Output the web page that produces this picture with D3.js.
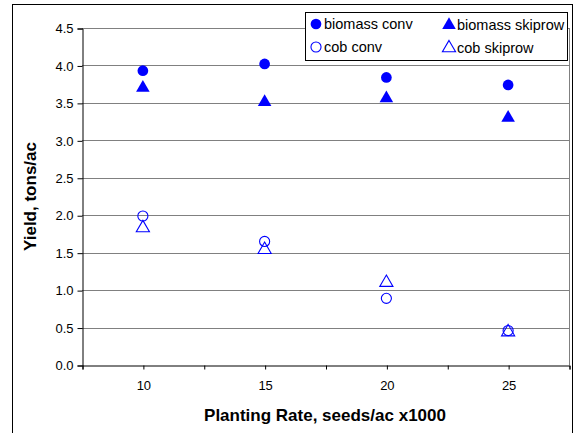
<!DOCTYPE html>
<html>
<head>
<script src="https://cdnjs.cloudflare.com/ajax/libs/d3/7.8.5/d3.min.js"></script>
<style>
  body { margin: 0; background: #fff; }
  text { font-family: Arial, "Liberation Sans", sans-serif; }
</style>
</head>
<body>
<div id="viz"></div>
<script>
// planting rate, seeds/ac x1000
var rates = [10, 15, 20, 25];
var biomassConv = [3.93, 4.02, 3.84, 3.74];
var biomassSkip = [3.70, 3.51, 3.56, 3.30];
var cobConv = [1.99, 1.65, 0.89, 0.46];
var cobSkip = [1.83, 1.54, 1.10, 0.44];
var yTicks = [0, 0.5, 1, 1.5, 2, 2.5, 3, 3.5, 4, 4.5];
var xTicks = [7.5, 10, 12.5, 15, 17.5, 20, 22.5, 25, 27.5];
var xLabels = [10, 15, 20, 25];

var W = 578, H = 433;
var plotL = 82, plotR = 569, plotT = 28, plotB = 365;
var blue = "#0000ff";
var font = "Arial, 'Liberation Sans', sans-serif";

var svg = d3.select("#viz").append("svg")
  .attr("width", W).attr("height", H);

// outer chart border
svg.append("rect")
  .attr("x", 12.5).attr("y", 4.5)
  .attr("width", 560).attr("height", 440)
  .attr("fill", "none").attr("stroke", "#000").attr("stroke-width", 1);

var x = d3.scaleLinear().domain([7.5, 27.5]).range([plotL, plotR]);
var y = d3.scaleLinear().domain([0, 4.5]).range([plotB, plotT]);

// gridlines
svg.append("g").selectAll("line").data(yTicks.filter(function(d){ return d > 0; }))
  .enter().append("line")
  .attr("x1", plotL).attr("x2", plotR)
  .attr("y1", function(d){ return Math.round(y(d)) + 0.5; })
  .attr("y2", function(d){ return Math.round(y(d)) + 0.5; })
  .attr("stroke", "#808080").attr("stroke-width", 1);

// plot right border
svg.append("line")
  .attr("x1", plotR + 0.5).attr("x2", plotR + 0.5)
  .attr("y1", plotT).attr("y2", plotB)
  .attr("stroke", "#808080");

// y axis
var yAxis = d3.axisLeft(y).tickValues(yTicks).tickSize(5).tickPadding(4)
  .tickFormat(d3.format(".1f"));
var gy = svg.append("g").attr("transform", "translate(" + (plotL + 0.5) + ",0.5)").call(yAxis);
gy.select(".domain").attr("stroke", "#000");
gy.selectAll(".tick line").attr("stroke", "#000");
gy.selectAll("text").attr("font-size", 13).attr("fill", "#000").attr("font-family", font);

// x axis
var xAxis = d3.axisBottom(x).tickValues(xTicks).tickSize(4).tickPadding(11)
  .tickFormat(function(d){ return xLabels.indexOf(d) >= 0 ? d : ""; });
var gx = svg.append("g").attr("transform", "translate(0.5," + (plotB + 0.5) + ")").call(xAxis);
gx.select(".domain").attr("stroke", "#000");
gx.selectAll(".tick line").attr("stroke", "#000");
gx.selectAll("text").attr("font-size", 13).attr("fill", "#000").attr("font-family", font);

// axis titles
svg.append("text")
  .attr("x", 325).attr("y", 421)
  .attr("text-anchor", "middle")
  .attr("font-size", 17).attr("font-weight", "bold")
  .text("Planting Rate, seeds/ac x1000");
svg.append("text")
  .attr("transform", "translate(36," + ((plotT + plotB) / 2) + ") rotate(-90)")
  .attr("text-anchor", "middle")
  .attr("font-size", 17).attr("font-weight", "bold")
  .text("Yield, tons/ac");

var circleSym = d3.symbol().type(d3.symbolCircle).size(90);
var triSym = d3.symbol().type(d3.symbolTriangle).size(80);
var openCircleSym = d3.symbol().type(d3.symbolCircle).size(80);
var openTriSym = d3.symbol().type(d3.symbolTriangle).size(75);

function drawSeries(vals, sym, filled) {
  svg.append("g").selectAll("path").data(vals).enter().append("path")
    .attr("d", sym)
    .attr("transform", function(d, i){ return "translate(" + x(rates[i]) + "," + y(d) + ")"; })
    .attr("fill", filled ? blue : "none")
    .attr("stroke", blue)
    .attr("stroke-width", filled ? 0 : 1.1);
}
drawSeries(biomassConv, circleSym, true);
drawSeries(biomassSkip, triSym, true);
drawSeries(cobConv, openCircleSym, false);
drawSeries(cobSkip, openTriSym, false);

// legend
var lg = svg.append("g");
lg.append("rect")
  .attr("x", 305.5).attr("y", 12.5).attr("width", 262).attr("height", 48)
  .attr("fill", "#fff").attr("stroke", "#000");
var items = [
  { label: "biomass conv", sym: circleSym, filled: true, x: 316, y: 24 },
  { label: "biomass skiprow", sym: triSym, filled: true, x: 449, y: 25 },
  { label: "cob conv", sym: openCircleSym, filled: false, x: 316, y: 47 },
  { label: "cob skiprow", sym: openTriSym, filled: false, x: 449, y: 48 }
];
items.forEach(function(it){
  lg.append("path").attr("d", it.sym)
    .attr("transform", "translate(" + it.x + "," + it.y + ")")
    .attr("fill", it.filled ? blue : "none")
    .attr("stroke", blue).attr("stroke-width", it.filled ? 0 : 1.1);
  lg.append("text").attr("x", it.x + 8).attr("y", it.y + 5)
    .attr("font-size", 14.5).attr("fill", "#000").text(it.label);
});
</script>
</body>
</html>
